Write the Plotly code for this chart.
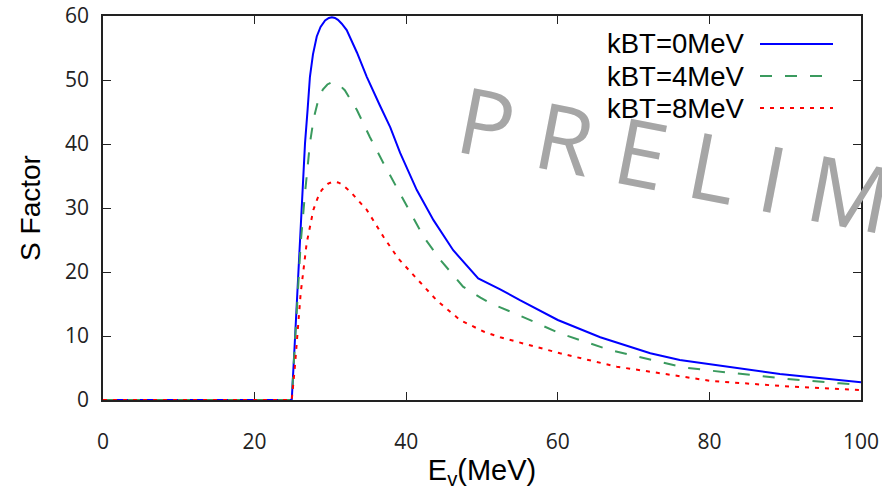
import plotly.graph_objects as go

# ---- data ----
x_kbt0 = [0, 24.9, 25.3, 25.77, 26.2, 26.65, 27.0, 27.3, 27.7, 28.2, 28.7, 29.3, 29.8, 30.2,
          30.6, 31.0, 31.5, 32.15, 33.5, 34.8, 36.5, 37.9, 39.2, 41.4, 43.6, 46.2, 49.5, 52.4,
          55, 60, 65.6, 72.2, 76.1, 80, 89.3, 100]
s_kbt0 = [0, 0, 8.9, 19.3, 29.7, 40.1, 45.5, 50.5, 54.0, 56.8, 58.3, 59.3, 59.7, 59.8,
          59.7, 59.4, 58.8, 57.8, 54.3, 50.5, 46.1, 42.6, 38.6, 32.8, 28.1, 23.4, 19.0, 17.3,
          15.6, 12.5, 9.8, 7.3, 6.25, 5.6, 4.06, 2.76]
x_kbt4 = [0, 24.9, 25.3, 25.55, 26.08, 26.65, 27.3, 27.8, 28.4, 29.0, 29.6, 30.1, 30.6,
          31.2, 31.9, 33.5, 35.2, 37.0, 38.4, 40.1, 42.3, 44.5, 47.5, 49.8, 51.1, 54.4,
          60.3, 66.9, 76.6, 80.1, 90.2, 97.2, 100]
s_kbt4 = [0, 0, 8.5, 14.0, 24.5, 32.3, 40.1, 44.0, 46.9, 48.5, 49.3, 49.6, 49.6,
          49.2, 48.4, 45.3, 41.1, 37.0, 33.9, 30.2, 25.5, 21.9, 17.7, 16.0, 15.1, 13.5,
          10.4, 7.8, 5.1, 4.6, 3.3, 2.6, 2.35]
x_kbt8 = [0, 24.9, 25.3, 25.55, 26.08, 26.87, 27.75, 28.3, 28.85, 29.7, 30.2, 30.6, 31.0,
          31.5, 32.6, 34.8, 37.0, 38.96, 40.9, 44.0, 47.1, 50.2, 52.4, 54.6, 60.3, 67.8,
          77.0, 80.1, 89.3, 100]
s_kbt8 = [0, 0, 5.0, 8.9, 16.7, 24.5, 29.7, 31.5, 32.8, 33.8, 34.05, 34.1, 34.0,
          33.7, 32.6, 29.7, 25.5, 22.1, 19.6, 15.6, 12.5, 10.7, 9.8, 9.1, 7.3, 5.2,
          3.5, 3.0, 2.2, 1.55]
series_names = ["kBT=0MeV", "kBT=4MeV", "kBT=8MeV"]
x_ticks = [0, 20, 40, 60, 80, 100]
y_ticks = [0, 10, 20, 30, 40, 50, 60]
watermark = "P R E L I M I N A R Y"

colors = ["#0000ff", "#3a9a5e", "#ff0000"]
dashes = ["solid", "12px,13px", "4px,6px"]

W, H = 882, 490
ML, MR, MT, MB = 103, 21, 16, 90
PW, PH = W - ML - MR, H - MT - MB

fig = go.Figure()
for name, xs, ys, c, d in zip(series_names, [x_kbt0, x_kbt4, x_kbt8],
                              [s_kbt0, s_kbt4, s_kbt8], colors, dashes):
    fig.add_trace(go.Scatter(x=xs, y=ys, mode="lines", name=name, cliponaxis=False,
                             line=dict(color=c, width=2, dash=d),
                             showlegend=False))

# manual legend: text on the left, sample line on the right
leg_y_px = [44, 76, 108]
for name, c, d, py in zip(series_names, colors, dashes, leg_y_px):
    yp = (H - MB - py) / PH
    fig.add_annotation(xref="paper", yref="paper", x=(746 - ML) / PW, y=yp, text=name,
                       showarrow=False, xanchor="right", yanchor="middle",
                       font=dict(family="Liberation Sans", size=27.5, color="#000000"))
    fig.add_shape(type="line", xref="paper", yref="paper",
                  x0=(760 - ML) / PW, x1=(833 - ML) / PW, y0=yp, y1=yp,
                  line=dict(color=c, width=2, dash=d))

# watermark
fig.add_annotation(xref="paper", yref="paper", x=(445 - ML) / PW, y=(400 - 52) / PH,
                   text=watermark, showarrow=False,
                   xanchor="left", yanchor="top", textangle=11,
                   font=dict(family="Open Sans", size=92, color="#a6a6a6"))

axis_common = dict(showline=True, linecolor="#222222", linewidth=1.5, mirror="allticks",
                   ticks="inside", ticklen=8, tickwidth=1.2, tickcolor="#222222",
                   showgrid=False, zeroline=False, automargin=False, layer="below traces",
                   tickfont=dict(family="Open Sans", size=21, color="#222222"))

fig.update_xaxes(range=[0, 100], tickvals=x_ticks, ticklabelstandoff=22,
                 title=dict(text="E<sub>v</sub>(MeV)", standoff=12,
                            font=dict(family="Liberation Sans", size=29, color="#000000")),
                 **axis_common)
fig.update_yaxes(range=[0, 60], tickvals=y_ticks, ticklabelstandoff=8,
                 title=dict(text="S Factor", standoff=16,
                            font=dict(family="Liberation Sans", size=28, color="#000000")),
                 **axis_common)

fig.update_layout(width=W, height=H, margin=dict(l=ML, r=MR, t=MT, b=MB, autoexpand=False),
                  paper_bgcolor="white", plot_bgcolor="white")

fig.write_html("out.html")
